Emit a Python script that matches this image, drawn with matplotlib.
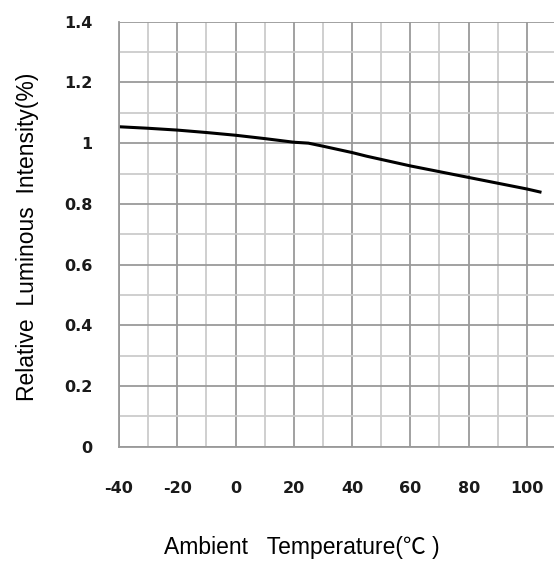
import numpy as np
import matplotlib
matplotlib.use("Agg")
from matplotlib import pyplot as plt
from matplotlib.ticker import MultipleLocator

plt.rcParams["axes.unicode_minus"] = False

# curve
temp = [-40, -30, -20, -10, 0, 10, 20, 25, 30, 40, 45, 60, 80, 100, 105]
intensity = [1.054, 1.049, 1.043, 1.035, 1.026, 1.015, 1.003, 1.0, 0.99, 0.969, 0.957, 0.925, 0.887, 0.849, 0.838]

x_ticks = [-40, -20, 0, 20, 40, 60, 80, 100]
y_ticks = [0, 0.2, 0.4, 0.6, 0.8, 1.0, 1.2, 1.4]
y_labels = ["0", "0.2", "0.4", "0.6", "0.8", "1", "1.2", "1.4"]

fig = plt.figure(figsize=(5.54, 5.61), dpi=100)
ax = fig.add_axes([0.2148, 0.2037, 0.7852, 0.7576])

ax.plot(temp, intensity, color="black", lw=2.2, solid_capstyle="butt")

ax.set_xlim(-40, 109.3)
ax.set_ylim(0, 1.4)
ax.set_xticks(x_ticks)
ax.set_yticks(y_ticks)
ax.set_yticklabels(y_labels)
ax.xaxis.set_minor_locator(MultipleLocator(10))
ax.yaxis.set_minor_locator(MultipleLocator(0.1))
ax.grid(which="major", color="#9a9a9a", lw=1.3)
ax.grid(which="minor", color="#cccccc", lw=1.3)
ax.set_axisbelow(True)

for s in ["top", "right"]:
    ax.spines[s].set_visible(False)
for s in ["left", "bottom"]:
    ax.spines[s].set_color("#9a9a9a")
    ax.spines[s].set_linewidth(1.3)

ax.tick_params(which="both", length=0)
ax.tick_params(axis="x", pad=25)
ax.tick_params(axis="y", pad=19)
for lab in ax.get_xticklabels() + ax.get_yticklabels():
    lab.set_fontweight("bold")
    lab.set_fontsize(11.5)
    lab.set_color("#1a1a1a")

fam = ["Liberation Sans", "Noto Sans CJK SC", "DejaVu Sans"]
fig.text(0.05, 0.578, "Relative  Luminous  Intensity(%)", rotation=90,
         ha="center", va="center", fontsize=16.5, family=fam)
fig.text(0.545, 0.024, "Ambient   Temperature(℃ )", ha="center", va="center",
         fontsize=16.5, family=fam)

fig.savefig("out.png", dpi=100)
